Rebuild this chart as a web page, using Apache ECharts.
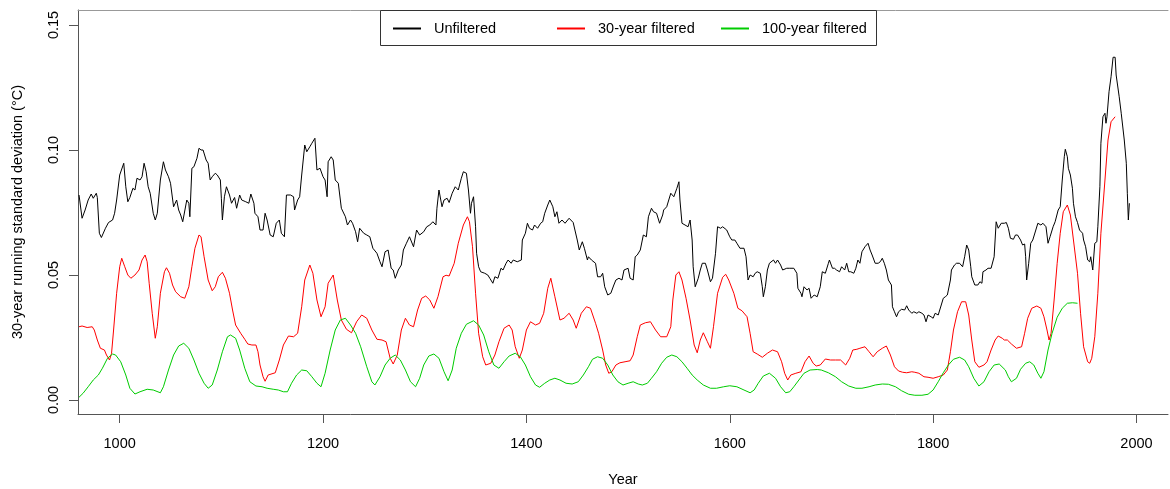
<!DOCTYPE html>
<html>
<head>
<meta charset="utf-8">
<script src="https://cdn.jsdelivr.net/npm/echarts@6/dist/echarts.min.js"></script>
<style>
  html, body { margin: 0; padding: 0; background: #fff; }
  #chart { width: 1170px; height: 489px; }
</style>
</head>
<body>
<div id="chart"></div>
<script>
// [year, sd] pairs
const unfiltered = [
  [960,.082],[963,.0727],[966,.076],[969,.080],[972,.0824],[974,.0807],[977,.0827],[978,.081],[980,.0667],[982,.065],
  [986,.0687],[989,.071],[993,.072],[995,.0747],[997,.080],[1000,.090],[1004,.0947],[1006,.0853],[1008,.0793],[1010,.081],
  [1013,.0847],[1015,.084],[1017,.0887],[1020,.088],[1022,.0893],[1024,.0947],[1026,.0913],[1028,.0853],[1030,.0827],[1033,.0747],
  [1035,.072],[1037,.0747],[1040,.088],[1043,.0953],[1045,.092],[1048,.0893],[1050,.0867],[1053,.0773],[1056,.080],[1058,.076],
  [1060,.074],[1062,.0713],[1066,.080],[1068,.0787],[1069,.0733],[1071,.0927],[1073,.0933],[1076,.0967],[1078,.1007],[1080,.100],
  [1082,.100],[1085,.096],[1087,.0947],[1089,.088],[1091,.0893],[1094,.0907],[1096,.090],[1099,.088],[1100,.0807],[1101,.072],
  [1103,.0813],[1105,.0853],[1108,.082],[1110,.0787],[1113,.081],[1115,.0767],[1118,.082],[1120,.080],[1124,.0793],[1127,.0787],
  [1129,.0824],[1132,.0787],[1133,.0747],[1136,.0733],[1138,.068],[1141,.068],[1143,.0747],[1145,.072],[1148,.066],[1151,.0653],
  [1154,.0707],[1157,.072],[1159,.0667],[1162,.0653],[1164,.082],[1168,.082],[1171,.0813],[1172,.076],[1175,.080],[1177,.0813],
  [1179,.090],[1182,.102],[1184,.0993],[1187,.1013],[1189,.1027],[1192,.1047],[1194,.092],[1197,.0927],[1200,.0893],[1202,.088],
  [1204,.0813],[1205,.0953],[1208,.0973],[1210,.096],[1212,.088],[1215,.0867],[1218,.0767],[1222,.0733],[1224,.070],[1227,.072],
  [1229,.0707],[1232,.0673],[1234,.0633],[1236,.0687],[1240,.0667],[1243,.066],[1246,.0653],[1249,.0607],[1253,.0587],[1256,.0553],
  [1258,.0533],[1261,.0593],[1264,.060],[1267,.0527],[1269,.052],[1271,.0487],[1274,.052],[1277,.054],[1279,.060],[1282,.0627],
  [1285,.0653],[1289,.0613],[1292,.068],[1295,.066],[1299,.0673],[1302,.0693],[1305,.070],[1308,.0713],[1311,.070],[1312,.0767],
  [1314,.084],[1317,.0773],[1319,.080],[1322,.0807],[1324,.079],[1327,.0827],[1330,.0853],[1333,.084],[1336,.0887],[1338,.0913],
  [1341,.0907],[1343,.084],[1345,.0747],[1346,.0787],[1348,.0813],[1350,.0693],[1351,.0587],[1353,.0533],[1355,.0513],[1359,.0507],
  [1362,.050],[1364,.0487],[1367,.0467],[1369,.0493],[1372,.0487],[1375,.0527],[1377,.052],[1380,.0547],[1382,.056],[1385,.0547],
  [1387,.056],[1391,.0553],[1395,.056],[1396,.064],[1399,.0667],[1401,.0707],[1403,.0687],[1406,.068],[1408,.070],[1411,.0687],
  [1414,.0707],[1416,.0713],[1418,.0747],[1421,.078],[1423,.080],[1426,.0773],[1428,.0733],[1430,.0753],[1432,.0707],[1435,.072],
  [1438,.0707],[1442,.0727],[1446,.071],[1450,.064],[1452,.060],[1455,.0633],[1457,.0607],[1460,.056],[1461,.0573],[1464,.056],
  [1468,.0547],[1470,.0493],[1473,.0493],[1475,.0507],[1477,.0453],[1480,.042],[1483,.0427],[1486,.046],[1488,.048],[1491,.0487],
  [1494,.048],[1496,.052],[1500,.0527],[1502,.0487],[1505,.048],[1507,.0573],[1509,.058],[1512,.060],[1515,.066],[1518,.0653],
  [1520,.0733],[1523,.0767],[1525,.0753],[1528,.0747],[1531,.0707],[1534,.074],[1535,.076],[1538,.0773],[1540,.080],[1542,.0827],
  [1545,.0813],[1548,.0847],[1550,.0873],[1551,.080],[1553,.0707],[1556,.070],[1559,.0693],[1561,.072],[1563,.064],[1564,.0533],
  [1566,.0453],[1569,.0487],[1571,.052],[1573,.0547],[1576,.0547],[1578,.052],[1581,.0473],[1583,.0487],[1586,.0587],[1588,.0693],
  [1591,.0687],[1593,.0693],[1597,.068],[1600,.0653],[1602,.064],[1605,.064],[1607,.0627],[1610,.0607],[1614,.0607],[1616,.0573],
  [1618,.048],[1620,.050],[1623,.0493],[1625,.0507],[1627,.0513],[1630,.0507],[1632,.0453],[1633,.0413],[1635,.0453],[1637,.052],
  [1639,.0547],[1643,.056],[1645,.0547],[1647,.056],[1650,.054],[1652,.052],[1656,.0527],[1659,.0527],[1663,.0527],[1666,.0507],
  [1667,.0447],[1670,.0427],[1671,.0413],[1673,.0453],[1676,.044],[1678,.0447],[1680,.0407],[1683,.042],[1686,.0413],[1689,.0453],
  [1691,.0513],[1694,.0507],[1697,.0547],[1698,.056],[1701,.0527],[1703,.0527],[1705,.052],[1708,.0513],[1710,.0533],[1713,.052],
  [1715,.0547],[1717,.0513],[1719,.0513],[1722,.0507],[1724,.0527],[1726,.056],[1728,.0547],[1730,.0593],[1733,.0613],[1736,.0627],
  [1738,.060],[1740,.058],[1743,.0547],[1746,.0547],[1748,.0553],[1750,.0567],[1752,.0547],[1754,.052],[1756,.048],[1759,.046],
  [1760,.0373],[1762,.0353],[1764,.0333],[1766,.0353],[1769,.0363],[1772,.036],[1774,.0377],[1776,.036],[1779,.0347],[1781,.0353],
  [1784,.0347],[1786,.0353],[1789,.0347],[1791,.034],[1793,.0313],[1795,.034],[1798,.0333],[1800,.0327],[1802,.0347],[1805,.034],
  [1808,.038],[1810,.0407],[1812,.0413],[1814,.042],[1817,.048],[1818,.052],[1821,.054],[1823,.0547],[1826,.0547],[1829,.0533],
  [1831,.0573],[1833,.062],[1835,.060],[1837,.0533],[1838,.0493],[1841,.046],[1844,.046],[1846,.0473],[1848,.0467],[1849,.0513],
  [1852,.052],[1854,.0527],[1857,.0527],[1860,.0573],[1862,.0713],[1864,.0687],[1867,.0707],[1870,.0707],[1872,.071],[1874,.0687],
  [1876,.0647],[1879,.0643],[1881,.066],[1883,.066],[1886,.064],[1888,.062],[1890,.0624],[1891,.0573],[1892,.048],[1894,.0547],
  [1896,.0627],[1898,.064],[1901,.068],[1903,.0707],[1906,.070],[1908,.0707],[1911,.0693],[1913,.0627],[1915,.0653],[1918,.0693],
  [1920,.0713],[1923,.076],[1925,.0773],[1927,.088],[1929,.0973],[1930,.1003],[1932,.0973],[1933,.0927],[1935,.090],[1937,.0847],
  [1938,.0787],[1940,.0733],[1942,.071],[1944,.068],[1947,.0667],[1948,.064],[1950,.0613],[1952,.056],[1954,.0553],[1955,.0573],
  [1957,.052],[1959,.0627],[1961,.0633],[1962,.0693],[1964,.0853],[1965,.1027],[1967,.1133],[1969,.1147],[1970,.1107],[1971,.1133],
  [1973,.1233],[1975,.1293],[1977,.1371],[1979,.1371],[1980,.130],[1983,.1213],[1985,.1147],[1988,.104],[1990,.0947],[1991,.0827],
  [1992,.072],[1993,.0787]
]

const filtered30 = [
  [960,.0293],[963,.0296],[968,.029],[973,.0293],[975,.028],[978,.024],[981,.0207],[985,.020],[987,.018],[990,.016],
  [992,.0187],[994,.028],[997,.0427],[1000,.0533],[1002,.0567],[1005,.0533],[1008,.050],[1011,.0487],[1015,.050],[1019,.052],
  [1022,.056],[1025,.058],[1027,.0553],[1029,.0467],[1032,.0347],[1035,.0247],[1037,.0293],[1040,.0427],[1044,.0513],[1046,.0529],
  [1049,.0507],[1052,.046],[1055,.0433],[1060,.0413],[1064,.0407],[1068,.0453],[1071,.0533],[1074,.0607],[1078,.066],[1080,.0653],
  [1083,.0573],[1087,.048],[1091,.0437],[1094,.0453],[1097,.0493],[1101,.0511],[1104,.0487],[1108,.0427],[1111,.036],[1114,.030],
  [1119,.0267],[1123,.0243],[1126,.0224],[1130,.022],[1134,.022],[1136,.0193],[1138,.014],[1141,.0093],[1143,.0075],[1146,.010],
  [1153,.0109],[1157,.016],[1161,.022],[1166,.0256],[1171,.0253],[1175,.0267],[1179,.0373],[1182,.048],[1187,.054],[1190,.0507],
  [1194,.040],[1198,.0333],[1202,.0373],[1205,.0467],[1210,.050],[1214,.040],[1218,.032],[1223,.0283],[1228,.0269],[1233,.0313],
  [1238,.034],[1243,.0327],[1248,.028],[1253,.0243],[1258,.024],[1262,.0233],[1266,.0167],[1269,.0144],[1273,.018],[1277,.028],
  [1281,.0327],[1285,.030],[1289,.0293],[1293,.036],[1297,.0407],[1301,.0416],[1305,.040],[1309,.0367],[1313,.0413],[1318,.0493],
  [1321,.0499],[1324,.0496],[1329,.0547],[1333,.0627],[1338,.070],[1342,.0733],[1344,.0713],[1347,.0613],[1350,.0427],[1353,.0267],
  [1357,.0173],[1360,.014],[1365,.0147],[1369,.018],[1373,.0233],[1378,.0287],[1383,.030],[1386,.028],[1389,.0213],[1393,.0167],
  [1396,.020],[1400,.028],[1404,.0313],[1409,.030],[1413,.0307],[1417,.0347],[1421,.0447],[1424,.0487],[1428,.0413],[1433,.032],
  [1437,.0327],[1442,.0347],[1446,.032],[1449,.0287],[1454,.0347],[1459,.0373],[1463,.0367],[1468,.0307],[1471,.0267],[1475,.020],
  [1478,.014],[1481,.0107],[1484,.0113],[1488,.014],[1492,.0149],[1497,.0153],[1502,.0157],[1505,.018],[1509,.0253],[1512,.030],
  [1517,.0309],[1522,.0313],[1527,.028],[1532,.0253],[1538,.0253],[1542,.0293],[1544,.040],[1547,.050],[1550,.0513],[1553,.048],
  [1557,.0407],[1561,.032],[1565,.022],[1568,.0189],[1571,.024],[1574,.0269],[1578,.0233],[1581,.0207],[1584,.0293],[1588,.0427],
  [1593,.0491],[1596,.0503],[1599,.048],[1604,.0427],[1608,.0367],[1612,.0357],[1617,.0333],[1620,.0267],[1623,.0193],[1627,.0184],
  [1632,.0171],[1637,.0187],[1642,.020],[1647,.0193],[1651,.0153],[1654,.0107],[1657,.008],[1660,.010],[1665,.0107],[1670,.0113],
  [1674,.0153],[1678,.0176],[1682,.0147],[1685,.0136],[1689,.014],[1694,.0164],[1699,.016],[1704,.016],[1709,.016],[1714,.014],
  [1718,.0167],[1721,.020],[1725,.0203],[1728,.0207],[1733,.0213],[1737,.0193],[1741,.0173],[1745,.0193],[1750,.0207],[1754,.0216],
  [1758,.018],[1762,.0133],[1766,.0116],[1770,.0111],[1774,.0109],[1779,.0113],[1782,.0111],[1786,.0107],[1791,.0093],[1795,.0091],
  [1800,.0087],[1805,.0093],[1810,.010],[1814,.012],[1817,.0193],[1820,.028],[1824,.0353],[1828,.0393],[1832,.0393],[1835,.034],
  [1838,.024],[1841,.0153],[1845,.0131],[1850,.014],[1853,.0153],[1857,.020],[1861,.024],[1864,.0256],[1868,.0247],[1870,.024],
  [1873,.024],[1877,.0224],[1882,.0207],[1887,.0213],[1890,.0267],[1893,.0327],[1897,.0367],[1902,.0376],[1906,.0367],[1909,.0333],
  [1912,.028],[1914,.024],[1916,.0267],[1919,.040],[1922,.0547],[1925,.0667],[1928,.0753],[1932,.078],[1935,.074],[1938,.064],
  [1942,.0507],[1945,.0347],[1948,.0213],[1952,.0153],[1954,.0147],[1956,.0167],[1959,.0253],[1962,.0427],[1965,.0667],[1969,.088],
  [1972,.104],[1975,.1113],[1979,.1133]
]

const filtered100 = [
  [960,.0011],[964,.0027],[969,.0053],[974,.008],[979,.010],[983,.0127],[988,.0167],[993,.0184],[996,.018],[1001,.0153],
  [1006,.010],[1010,.0047],[1015,.0024],[1020,.0033],[1027,.0043],[1033,.004],[1040,.0029],[1043,.0053],[1048,.012],[1053,.018],
  [1058,.0216],[1063,.0227],[1068,.0207],[1073,.016],[1078,.0107],[1083,.0067],[1087,.0047],[1091,.006],[1096,.012],[1101,.0193],
  [1106,.0253],[1109,.026],[1114,.0247],[1118,.020],[1123,.0127],[1128,.0073],[1134,.0056],[1140,.0053],[1145,.0047],[1151,.0043],
  [1156,.004],[1161,.0033],[1165,.0033],[1169,.0067],[1174,.010],[1179,.012],[1184,.0117],[1189,.0093],[1194,.0067],[1198,.0053],
  [1202,.0107],[1207,.020],[1212,.028],[1217,.032],[1222,.0327],[1227,.030],[1232,.0267],[1237,.0213],[1243,.0133],[1248,.0073],
  [1251,.006],[1256,.0093],[1261,.014],[1266,.0167],[1271,.018],[1276,.016],[1281,.012],[1286,.0073],[1291,.0053],[1295,.0087],
  [1299,.014],[1304,.0176],[1309,.0184],[1314,.0167],[1319,.0113],[1323,.0077],[1327,.012],[1331,.0207],[1336,.0267],[1341,.0303],
  [1348,.0317],[1353,.030],[1358,.026],[1363,.0193],[1368,.014],[1373,.0127],[1378,.0153],[1383,.0176],[1389,.0187],[1394,.0173],
  [1399,.014],[1404,.0093],[1409,.006],[1413,.0051],[1418,.0067],[1423,.008],[1428,.0087],[1433,.008],[1439,.0067],[1445,.0064],
  [1451,.0073],[1456,.010],[1461,.0133],[1465,.0163],[1470,.0173],[1475,.0167],[1480,.014],[1485,.010],[1490,.0073],[1495,.006],
  [1500,.0067],[1505,.0073],[1510,.0064],[1514,.006],[1519,.0067],[1523,.0087],[1528,.0113],[1533,.0147],[1538,.0171],[1543,.018],
  [1548,.0173],[1553,.0153],[1558,.0127],[1563,.010],[1568,.008],[1574,.006],[1581,.0047],[1587,.0047],[1594,.0053],[1600,.0057],
  [1607,.0053],[1614,.004],[1620,.0029],[1624,.004],[1628,.0067],[1633,.0096],[1639,.0107],[1645,.0087],[1650,.0053],[1655,.0029],
  [1659,.0033],[1663,.0053],[1668,.008],[1673,.0107],[1679,.012],[1686,.0122],[1690,.012],[1697,.0109],[1704,.0093],[1710,.0073],
  [1717,.0056],[1724,.0047],[1730,.0047],[1737,.0053],[1743,.006],[1750,.0064],[1756,.0063],[1763,.0053],[1769,.0037],[1776,.0023],
  [1782,.0019],[1789,.0019],[1795,.0023],[1800,.004],[1805,.0073],[1810,.0109],[1815,.014],[1820,.0163],[1826,.0171],[1831,.016],
  [1835,.0133],[1840,.0087],[1845,.0056],[1850,.0073],[1855,.0113],[1860,.014],[1865,.0144],[1871,.012],[1874,.0093],[1877,.0073],
  [1882,.0087],[1886,.0123],[1891,.0147],[1895,.0153],[1899,.014],[1903,.0107],[1906,.0087],[1909,.0113],[1913,.020],[1917,.0267],
  [1922,.0331],[1927,.0367],[1932,.0387],[1937,.0389],[1942,.0387]
]

const seriesNames = ['Unfiltered', '30-year filtered', '100-year filtered']
const seriesColors = ['#000000', '#ff0000', '#00cc00']
const xTicks = [1000, 1200, 1400, 1600, 1800, 2000]
const yTicks = [0, 0.05, 0.10, 0.15]

const chart = echarts.init(document.getElementById('chart'), null, { renderer: 'canvas' })

const font = 'Liberation Sans, Arial, sans-serif'
const legendLeft = [392, 556, 720]

function makeLine(name, data, color) {
  return {
    name: name,
    type: 'line',
    data: data,
    symbol: 'none',
    showSymbol: false,
    silent: true,
    lineStyle: { color: color, width: 1 },
    itemStyle: { color: color }
  }
}

const option = {
  animation: false,
  backgroundColor: '#ffffff',
  grid: { left: 78, right: 2, top: 10, bottom: 75, containLabel: false, outerBoundsMode: 'none' },
  graphic: [{
    type: 'rect',
    shape: { x: 380.5, y: 10.5, width: 496, height: 35 },
    style: { fill: '#ffffff', stroke: '#333333', lineWidth: 1 },
    z: 50
  }],
  legend: seriesNames.map((n, i) => ({
    data: [n],
    left: legendLeft[i],
    top: 21,
    padding: 0,
    itemWidth: 28,
    itemHeight: 14,
    selectedMode: false,
    z: 60,
    // hide the marker dot, keep only the line
    itemStyle: { color: 'rgba(0,0,0,0)', borderColor: 'rgba(0,0,0,0)', borderWidth: 0 },
    textStyle: { fontFamily: font, fontSize: 14.5, color: '#000', padding: [0, 0, 0, 8] }
  })),
  xAxis: [{
    type: 'value',
    min: 959,
    max: 2031,
    name: 'Year',
    nameLocation: 'middle',
    nameGap: 58,
    nameTextStyle: { fontFamily: font, fontSize: 14.5, color: '#000' },
    splitLine: { show: false },
    axisLine: { show: true, onZero: false, lineStyle: { color: '#555', width: 1 } },
    axisTick: { show: true, length: 9, customValues: xTicks, lineStyle: { color: '#555' } },
    axisLabel: {
      customValues: xTicks,
      margin: 22,
      fontFamily: font,
      fontSize: 14.5,
      color: '#000',
      formatter: v => String(v)
    }
  }, {
    type: 'value',
    position: 'top',
    min: 959,
    max: 2031,
    splitLine: { show: false },
    axisLine: { show: true, onZero: false, lineStyle: { color: '#999', width: 1 } },
    axisTick: { show: false },
    axisLabel: { show: false }
  }],
  yAxis: {
    type: 'value',
    min: -0.0056,
    max: 0.156,
    name: '30-year running standard deviation (°C)',
    nameLocation: 'middle',
    nameGap: 53,
    nameTextStyle: { fontFamily: font, fontSize: 14.5, color: '#000' },
    splitLine: { show: false },
    axisLine: { show: true, onZero: false, lineStyle: { color: '#555', width: 1 } },
    axisTick: { show: true, length: 9, customValues: yTicks, lineStyle: { color: '#555' } },
    axisLabel: {
      customValues: yTicks,
      rotate: 90,
      margin: 17,
      fontFamily: font,
      fontSize: 14.5,
      color: '#000',
      formatter: v => v.toFixed(2)
    }
  },
  series: [
    makeLine(seriesNames[0], unfiltered, seriesColors[0]),
    makeLine(seriesNames[1], filtered30, seriesColors[1]),
    makeLine(seriesNames[2], filtered100, seriesColors[2])
  ]
}

chart.setOption(option)
</script>
</body>
</html>
